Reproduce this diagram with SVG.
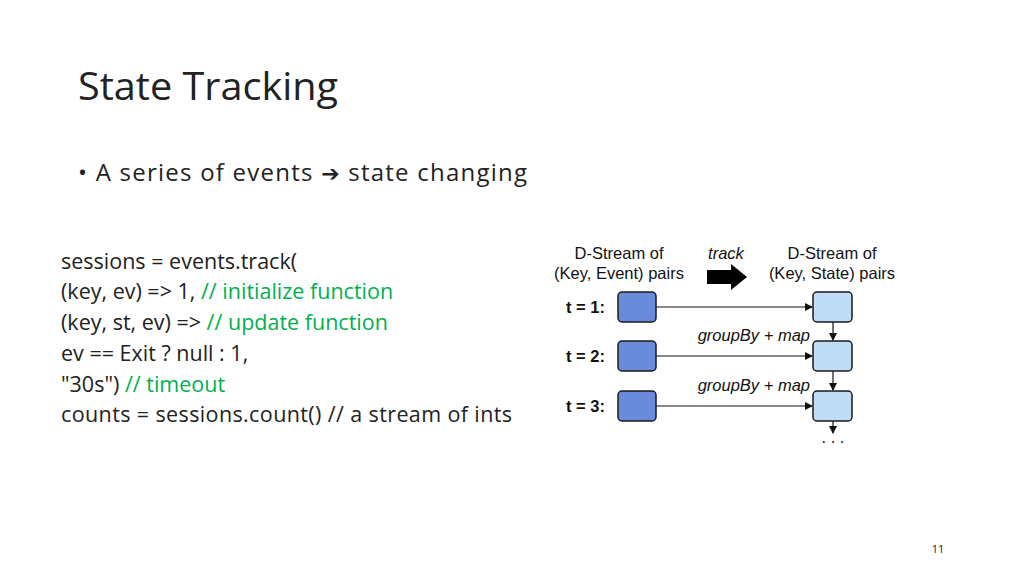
<svg xmlns="http://www.w3.org/2000/svg" width="1024" height="576" viewBox="0 0 1024 576">
<defs>
<style>
.t{font-family:"Open Sans","Liberation Sans",sans-serif;fill:#222}
.g{fill:#00B050}
.d{font-family:"Liberation Sans",Arial,sans-serif;fill:#111;font-size:16.5px}
.lb{fill:#6A8BDB;stroke:#1a1a1a;stroke-width:1.5}
.rb{fill:#BFDDF7;stroke:#1a1a1a;stroke-width:1.5}
.c{stroke:#111;stroke-width:1.2;fill:none;marker-end:url(#ah)}
</style>
<marker id="ah" markerWidth="8" markerHeight="8" refX="7" refY="4" orient="auto" markerUnits="userSpaceOnUse"><path d="M0,0 L8,4 L0,8 z" fill="#111"/></marker>
</defs>
<rect width="1024" height="576" fill="#fff"/>
<text class="t" x="78" y="100" font-size="39" fill="#333" textLength="260" lengthAdjust="spacingAndGlyphs">State Tracking</text>
<text class="t" x="78" y="181" font-size="24" textLength="449" lengthAdjust="spacing">• A series of events <tspan font-family="DejaVu Sans" font-weight="bold" font-size="22">➔</tspan> state changing</text>
<g class="t" font-size="21.5">
<text x="61" y="269">sessions = events.track(</text>
<text x="61" y="299">(key, ev) =&gt; 1, <tspan class="g">// initialize function</tspan></text>
<text x="61" y="330">(key, st, ev) =&gt; <tspan class="g">// update function</tspan></text>
<text x="61" y="361">ev == Exit ? null : 1,</text>
<text x="61" y="392">"30s") <tspan class="g">// timeout</tspan></text>
<text x="61" y="422" textLength="451" lengthAdjust="spacing">counts = sessions.count() // a stream of ints</text>
</g>
<text class="t" x="938" y="553" font-size="11" fill="#888" text-anchor="middle">11</text>
<g id="headers" class="d" text-anchor="middle">
<text x="619" y="259">D-Stream of</text>
<text x="619" y="279">(Key, Event) pairs</text>
<text x="832" y="259">D-Stream of</text>
<text x="832" y="279">(Key, State) pairs</text>
<text x="726" y="259" font-style="italic">track</text>
</g>
<path id="bigarrow" d="M707,270 H731 V264 L747,277 L731,290 V284 H707 z" fill="#000"/>
<g id="labels" class="d" font-weight="bold" text-anchor="end">
<text x="605" y="313">t = 1:</text>
<text x="605" y="362">t = 2:</text>
<text x="605" y="412">t = 3:</text>
</g>
<g id="connectors">
<path class="c" d="M656,307 H812"/>
<path class="c" d="M656,356 H812"/>
<path class="c" d="M656,406 H812"/>
<path class="c" d="M833,322 V340"/>
<path class="c" d="M833,371 V390"/>
<path class="c" d="M833,421 V433"/>
<text class="d" x="810" y="341" text-anchor="end" font-style="italic">groupBy + map</text>
<text class="d" x="810" y="391" text-anchor="end" font-style="italic">groupBy + map</text>
<text class="d" x="833" y="443" text-anchor="middle">. . .</text>
</g>
<g id="e1"><rect class="lb" x="618" y="292" width="38" height="30" rx="4"/></g>
<g id="e2"><rect class="lb" x="618" y="341" width="38" height="30" rx="4"/></g>
<g id="e3"><rect class="lb" x="618" y="391" width="38" height="30" rx="4"/></g>
<g id="s1"><rect class="rb" x="813" y="292" width="39" height="30" rx="4"/></g>
<g id="s2"><rect class="rb" x="813" y="341" width="39" height="30" rx="4"/></g>
<g id="s3"><rect class="rb" x="813" y="391" width="39" height="30" rx="4"/></g>
</svg>
